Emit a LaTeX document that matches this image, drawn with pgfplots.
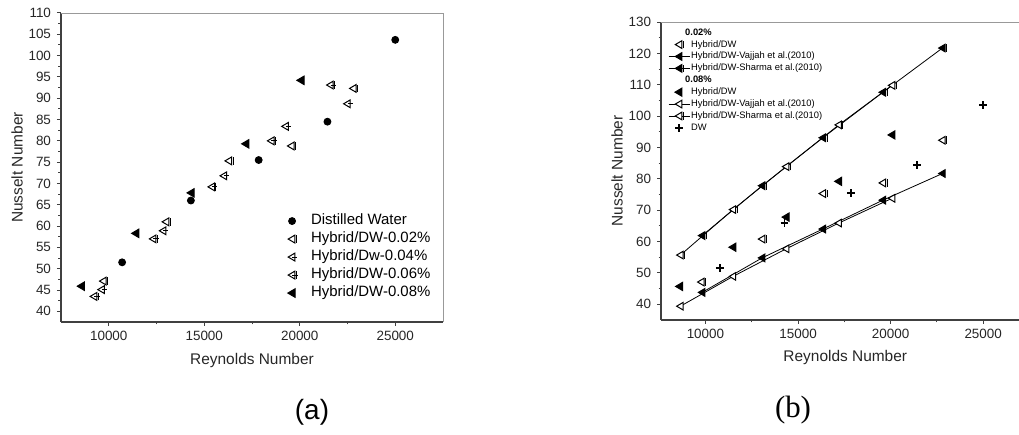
\documentclass[border=0pt]{standalone}
\usepackage{fontspec}
\setmainfont{Liberation Sans}
\newfontfamily\seriffont{Liberation Serif}
\usepackage{pgfplots}
\pgfplotsset{compat=1.18}

% left-pointing triangle marks
\pgfdeclareplotmark{ltri}{%
  \pgfpathmoveto{\pgfqpoint{-\pgfplotmarksize}{0pt}}%
  \pgfpathlineto{\pgfqpoint{0.7\pgfplotmarksize}{\pgfplotmarksize}}%
  \pgfpathlineto{\pgfqpoint{0.7\pgfplotmarksize}{-\pgfplotmarksize}}%
  \pgfpathclose
  \pgfusepathqfillstroke}
\pgfdeclareplotmark{ltribar}{%
  \pgfpathmoveto{\pgfqpoint{-\pgfplotmarksize}{0pt}}%
  \pgfpathlineto{\pgfqpoint{0.7\pgfplotmarksize}{\pgfplotmarksize}}%
  \pgfpathlineto{\pgfqpoint{0.7\pgfplotmarksize}{-\pgfplotmarksize}}%
  \pgfpathclose
  \pgfusepathqfillstroke
  \pgfpathmoveto{\pgfqpoint{1.1\pgfplotmarksize}{-\pgfplotmarksize}}%
  \pgfpathlineto{\pgfqpoint{1.1\pgfplotmarksize}{\pgfplotmarksize}}%
  \pgfusepathqstroke}
\pgfdeclareplotmark{ltritail}{%
  \pgfpathmoveto{\pgfqpoint{-\pgfplotmarksize}{0pt}}%
  \pgfpathlineto{\pgfqpoint{0.7\pgfplotmarksize}{\pgfplotmarksize}}%
  \pgfpathlineto{\pgfqpoint{0.7\pgfplotmarksize}{-\pgfplotmarksize}}%
  \pgfpathclose
  \pgfusepathqfillstroke
  \pgfpathmoveto{\pgfqpoint{0pt}{0pt}}%
  \pgfpathlineto{\pgfqpoint{1.3\pgfplotmarksize}{0pt}}%
  \pgfusepathqstroke}
\pgfdeclareplotmark{ltricross}{%
  \pgfpathmoveto{\pgfqpoint{-\pgfplotmarksize}{0pt}}%
  \pgfpathlineto{\pgfqpoint{0.7\pgfplotmarksize}{\pgfplotmarksize}}%
  \pgfpathlineto{\pgfqpoint{0.7\pgfplotmarksize}{-\pgfplotmarksize}}%
  \pgfpathclose
  \pgfusepathqfillstroke
  \pgfpathmoveto{\pgfqpoint{0pt}{0pt}}%
  \pgfpathlineto{\pgfqpoint{1.4\pgfplotmarksize}{0pt}}%
  \pgfpathmoveto{\pgfqpoint{1.05\pgfplotmarksize}{-\pgfplotmarksize}}%
  \pgfpathlineto{\pgfqpoint{1.05\pgfplotmarksize}{\pgfplotmarksize}}%
  \pgfusepathqstroke}

\pgfplotsset{
  nuplot/.style={
    scale only axis,
    axis x line*=bottom, axis y line*=left,
    axis line style={black!75, line width=1.4bp},
    tick style={black!75, line width=1bp},
    tick align=outside,
    major tick length=4bp, minor tick length=2.5bp,
    minor x tick num=1, minor y tick num=1,
    xtick={10000,15000,20000,25000},
    scaled x ticks=false,
    /pgf/number format/assume math mode=true,
    /pgf/number format/1000 sep={},
    tick label style={font=\fontsize{13.5}{15}\selectfont, color=black!85},
    xticklabel style={yshift=-2bp},
    yticklabel style={xshift=-2.5bp},
    label style={font=\fontsize{15.5}{18}\selectfont, color=black!85},
    clip=false,
    every axis plot/.append style={line width=1bp},
  },
  frametop/.style={
    after end axis/.code={
      \draw[black!40, line width=0.9bp] (rel axis cs:0,1) -- (rel axis cs:1,1) -- (rel axis cs:1,0);
    }
  },
}

\begin{document}
\begin{tikzpicture}
% ---------------- (a)
\begin{axis}[nuplot, frametop,
  at={(61bp,113bp)}, anchor=south west,
  width=382bp, height=309bp,
  xmin=7500, xmax=27500, ymin=37.5, ymax=110,
  ytick={40,45,...,110},
  xlabel={Reynolds Number}, ylabel={Nusselt Number},
  xlabel style={at={(axis description cs:0.5,-0.126)}, anchor=center},
  ylabel style={at={(axis description cs:-0.115,0.5)}, anchor=center},
  legend cell align=left,
  legend image code/.code={\path (-5bp,0bp) (17bp,0bp);
    \draw[mark repeat=2,mark phase=2,#1] plot coordinates {(-5bp,0bp) (0bp,0bp) (5bp,0bp)};},
  legend style={at={(0.59,0.354)}, anchor=north west, draw=none, fill=none,
    inner sep=0pt, row sep=1.5bp,
    font=\fontsize{15}{18}\selectfont,
    nodes={inner sep=1.5bp, text height=10.5bp, text depth=3bp}},
]
\addplot[only marks, mark=*, mark size=3.4bp, black] coordinates {
(10700,51.5) (14300,66.0) (17850,75.5) (21450,84.5) (25000,103.7)};
\addlegendentry{Distilled Water}
\addplot[only marks, mark=ltribar, mark size=3.9bp, black, mark options={fill=white}] coordinates {
(9720,47.1) (13000,61.0) (16290,75.3) (19560,78.8) (22810,92.3)};
\addlegendentry{Hybrid/DW-0.02\%}
\addplot[only marks, mark=ltritail, mark size=3.9bp, black, mark options={fill=white}] coordinates {
(9630,45.1) (12850,58.9) (16030,71.8) (19260,83.4) (22500,88.7)};
\addlegendentry{Hybrid/Dw-0.04\%}
\addplot[only marks, mark=ltricross, mark size=3.9bp, black, mark options={fill=white}] coordinates {
(9230,43.5) (12330,57.0) (15400,69.2) (18510,80.0) (21610,93.1)};
\addlegendentry{Hybrid/DW-0.06\%}
\addplot[only marks, mark=ltri, mark size=4.2bp, black, mark options={fill=black}] coordinates {
(8570,45.9) (11420,58.3) (14320,67.8) (17180,79.3) (20070,94.2)};
\addlegendentry{Hybrid/DW-0.08\%}
\end{axis}

% ---------------- (b)
\begin{axis}[nuplot, frametop,
  at={(661bp,115bp)}, anchor=south west,
  width=368.5bp, height=298bp,
  xmin=7600, xmax=27500, ymin=35, ymax=130,
  ytick={40,50,...,130},
  xlabel={Reynolds Number}, ylabel={Nusselt Number},
  xlabel style={at={(axis description cs:0.5,-0.1275)}, anchor=center},
  ylabel style={at={(axis description cs:-0.1194,0.5)}, anchor=center},
  legend cell align=left,
  legend image code/.code={\draw[mark repeat=2,mark phase=2,#1]
    plot coordinates {(0bp,0bp) (10.5bp,0bp) (21bp,0bp)};},
  legend style={at={(0.019,0.984)}, anchor=north west, draw=none, fill=none,
    inner sep=0pt, row sep=0.5bp,
    font=\fontsize{9.4}{11}\selectfont,
    nodes={inner sep=1.2bp, text height=7bp, text depth=2bp}},
]
\addlegendimage{empty legend}
\addlegendentry{\hspace*{-6bp}\textbf{0.02\%}}
\addplot[only marks, mark=ltribar, mark size=3.8bp, black, mark options={fill=white}] coordinates {
(9780,47.1) (13060,60.8) (16340,75.3) (19580,78.7) (22800,92.3)};
\addlegendentry{Hybrid/DW}
\addplot[black, line width=0.8bp, mark=ltri, mark size=3.8bp, mark options={fill=black, line width=1bp}] coordinates {
(9820,43.8) (13060,54.8) (16340,64.0) (19580,73.2) (22800,81.7)};
\addlegendentry{Hybrid/DW-Vajjah et al.(2010)}
\addplot[black, line width=0.8bp, mark=ltribar, mark size=3.8bp, mark options={fill=black, line width=1bp}] coordinates {
(9820,61.9) (13060,77.8) (16340,93.1) (19580,107.6) (22800,121.7)};
\addlegendentry{Hybrid/DW-Sharma et al.(2010)}
\addlegendimage{empty legend}
\addlegendentry{\hspace*{-6bp}\textbf{0.08\%}}
\addplot[only marks, mark=ltri, mark size=4.1bp, black, mark options={fill=black}] coordinates {
(8610,45.7) (11490,58.2) (14360,67.8) (17200,79.2) (20080,94.0)};
\addlegendentry{Hybrid/DW}
\addplot[black, line width=0.8bp, mark=ltri, mark size=3.8bp, mark options={fill=white, line width=1bp}] coordinates {
(8650,39.4) (11490,48.9) (14360,57.7) (17200,65.9) (20080,73.8)};
\addlegendentry{Hybrid/DW-Vajjah et al.(2010)}
\addplot[black, line width=0.8bp, mark=ltribar, mark size=3.8bp, mark options={fill=white, line width=1bp}] coordinates {
(8650,55.7) (11490,70.2) (14360,83.9) (17200,97.2) (20080,109.8)};
\addlegendentry{Hybrid/DW-Sharma et al.(2010)}
\addplot[only marks, mark=+, mark size=3.8bp, black, mark options={line width=1.9bp}] coordinates {
(10770,51.5) (14270,65.9) (17870,75.4) (21430,84.4) (25000,103.6)};
\addlegendentry{DW}
\end{axis}

\node[font=\fontsize{28}{30}\selectfont] at (312bp,23bp) {(a)};
\node[font=\seriffont\fontsize{31}{33}\selectfont] at (793bp,25bp) {(b)};

\pgfresetboundingbox
\useasboundingbox (0,0) rectangle (1019bp,435bp);
\end{tikzpicture}
\end{document}
